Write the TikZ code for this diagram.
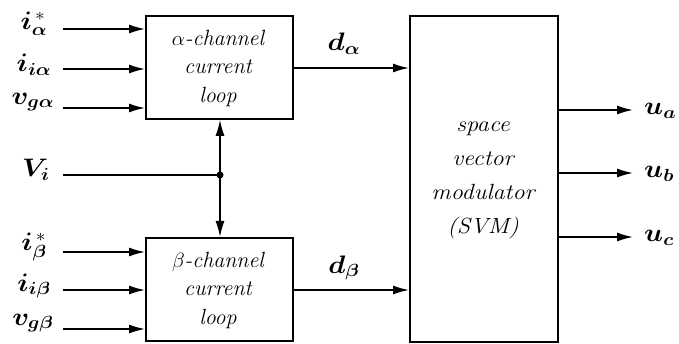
\documentclass[tikz,border=0pt]{standalone}
\usepackage{amsmath}
\usepackage{bm}
\usepackage{graphicx}
\usetikzlibrary{arrows.meta}
% signal labels are enlarged and set a little wider than the font's own width
\newcommand{\sglab}[1]{\scalebox{1.35}[1.22]{#1}}
\newcommand{\wide}[1]{\scalebox{1.1}[1]{#1}}
\begin{document}
\begin{tikzpicture}[x=1pt,y=-1pt,
  blk/.style={draw, line width=1.8pt, inner sep=0pt, anchor=north west},
  sig/.style={line width=1.5pt, -{Latex[length=16pt,width=9pt]}},
  boxtext/.style={font=\itshape\fontsize{22}{28.5}\selectfont, inner sep=0pt},
  svmtext/.style={font=\itshape\fontsize{22}{34}\selectfont, inner sep=0pt},
  lab/.style={font=\fontsize{20}{24}\selectfont, inner sep=0pt}]
\useasboundingbox (0,0) rectangle (679,344);

% blocks
\node[blk, minimum width=147pt, minimum height=103pt] (ab) at (145,15) {};
\node[blk, minimum width=147pt, minimum height=103pt] (bb) at (145,237) {};
\node[blk, minimum width=148pt, minimum height=326pt] (svm) at (409,15) {};

\node[boxtext] (abt) at (218,68) {\begin{tabular}{@{}c@{}}$\alpha$-channel\\current\\loop\end{tabular}};
\node[boxtext] (bbt) at (218,290) {\begin{tabular}{@{}c@{}}$\beta$-channel\\current\\loop\end{tabular}};
\node[svmtext] (svmt) at (483,176) {\wide{\begin{tabular}{@{}c@{}}space\\vector\\modulator\\(SVM)\end{tabular}}};

% alpha-channel inputs
\coordinate (a1) at (63,29);
\coordinate (a2) at (63,69);
\coordinate (a3) at (63,108);
\draw[sig] (a1) -- (ab.west |- a1);
\draw[sig] (a2) -- (ab.west |- a2);
\draw[sig] (a3) -- (ab.west |- a3);
\node[lab] (la1) at (34,24) {\sglab{$\bm{i}^{\,*}_{\bm{\alpha}}$}};
\node[lab] (la2) at (34,65) {\sglab{$\bm{i}_{\bm{i\alpha}}$}};
\node[lab] (la3) at (33,102) {\sglab{$\bm{v}_{\bm{g\alpha}}$}};

% beta-channel inputs
\coordinate (b1) at (63,252);
\coordinate (b2) at (63,290);
\coordinate (b3) at (63,329);
\draw[sig] (b1) -- (bb.west |- b1);
\draw[sig] (b2) -- (bb.west |- b2);
\draw[sig] (b3) -- (bb.west |- b3);
\node[lab] (lb1) at (34,247) {\sglab{$\bm{i}^{\,*}_{\bm{\beta}}$}};
\node[lab] (lb2) at (34,286) {\sglab{$\bm{i}_{\bm{i\beta}}$}};
\node[lab] (lb3) at (33,323) {\sglab{$\bm{v}_{\bm{g\beta}}$}};

% input voltage feeding both loops
\coordinate (vi) at (63,175);
\coordinate (jn) at (220,175);
\node[lab] (lvi) at (36,170) {\sglab{$\bm{V}_{\bm{i}}$}};
\draw[line width=1.5pt] (vi) -- (jn);
\draw[sig] (jn) -- (jn |- ab.south);
\draw[sig] (jn) -- (jn |- bb.north);
\fill (jn) circle (3.5pt);

% duty cycles to the modulator
\coordinate (da) at (292,68);
\coordinate (db) at (292,290);
\draw[sig] (da) -- (svm.west |- da);
\draw[sig] (db) -- (svm.west |- db);
\node[lab] (lda) at (344,44) {\sglab{$\bm{d}_{\bm{\alpha}}$}};
\node[lab] (ldb) at (344,268) {\sglab{$\bm{d}_{\bm{\beta}}$}};

% modulator outputs
\coordinate (ua) at (633,110);
\coordinate (ub) at (633,173);
\coordinate (uc) at (633,237);
\draw[sig] (svm.east |- ua) -- (ua);
\draw[sig] (svm.east |- ub) -- (ub);
\draw[sig] (svm.east |- uc) -- (uc);
\node[lab, anchor=west] (lua) at (644,111) {\sglab{$\bm{u}_{\bm{a}}$}};
\node[lab, anchor=west] (lub) at (644,174) {\sglab{$\bm{u}_{\bm{b}}$}};
\node[lab, anchor=west] (luc) at (644,238) {\sglab{$\bm{u}_{\bm{c}}$}};
\end{tikzpicture}
\end{document}
